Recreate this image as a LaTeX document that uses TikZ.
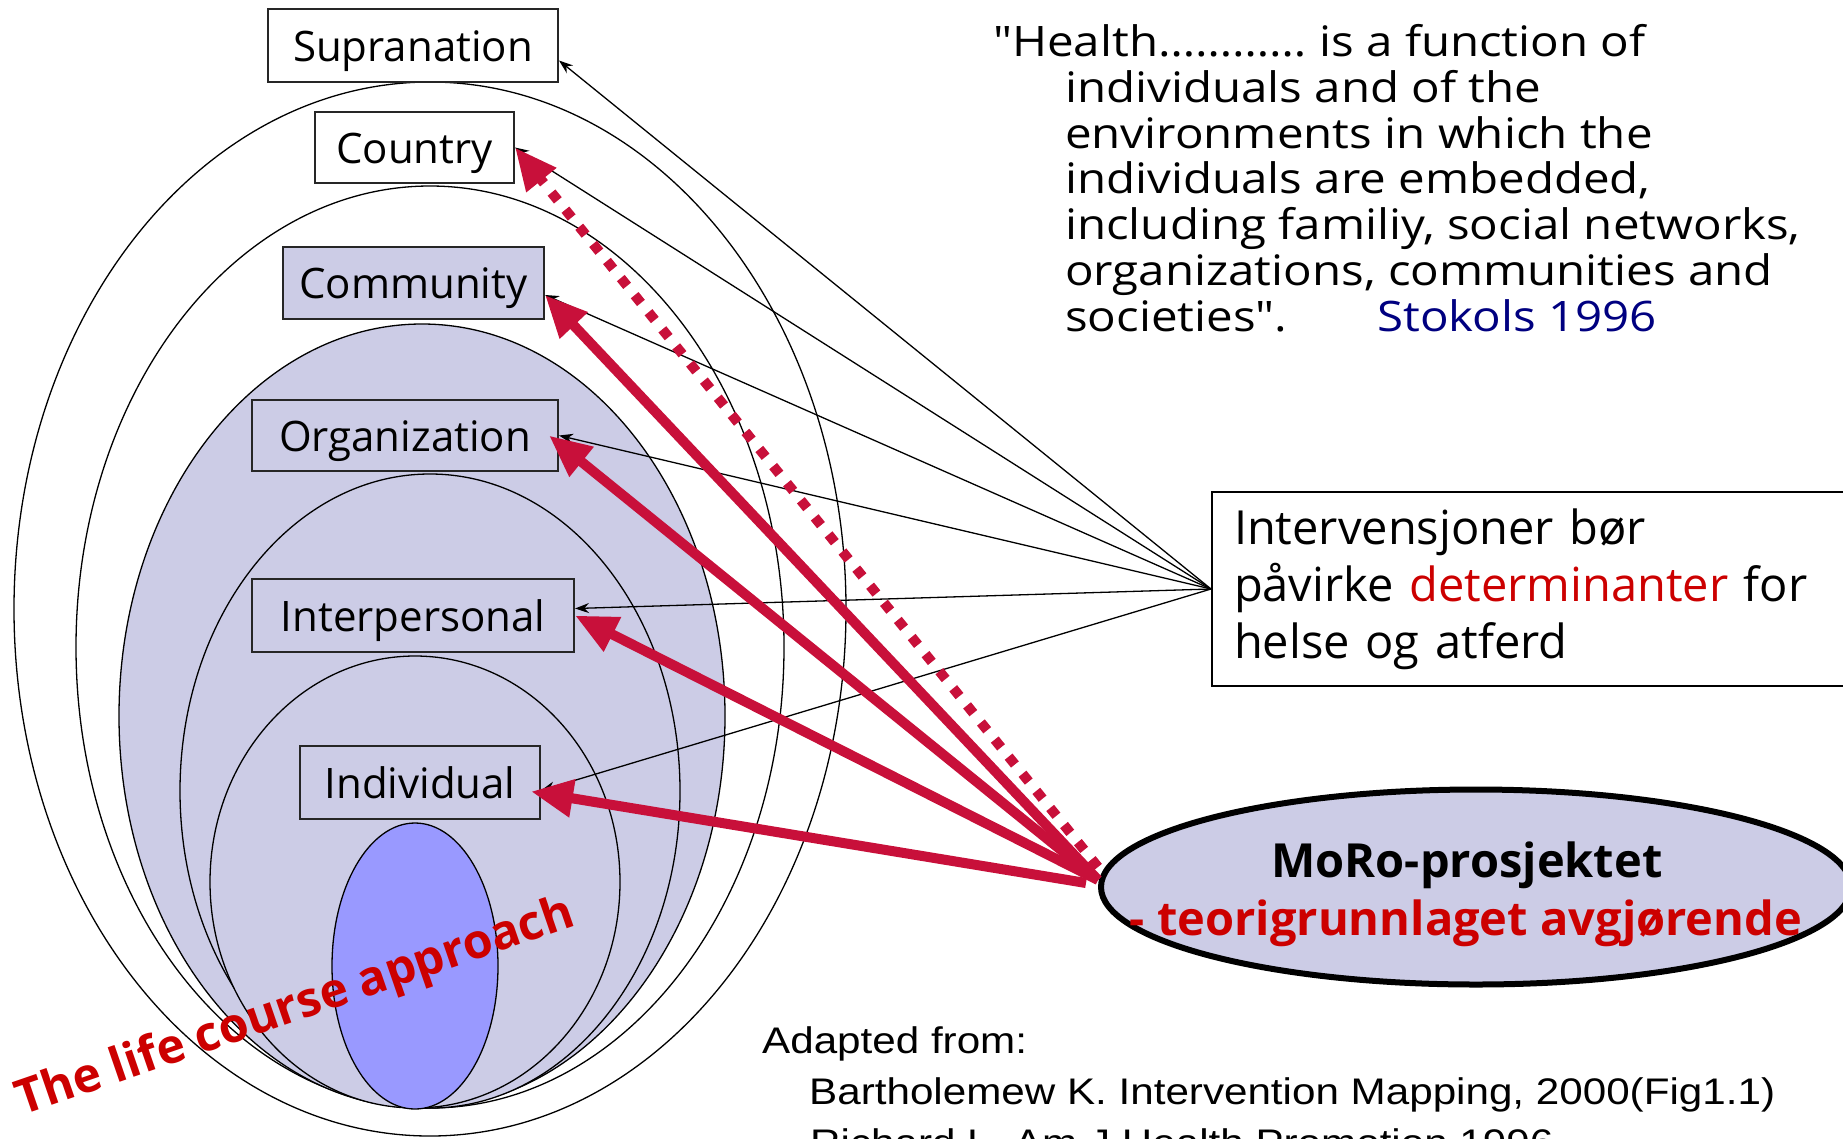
\documentclass[tikz,border=0pt]{standalone}
\usepackage{fontspec}
\setmainfont{Open Sans}
\newfontfamily\quotef[FakeStretch=1.13]{Open Sans}
\newfontfamily\arialf[FakeStretch=1.14]{Liberation Sans}
\usetikzlibrary{arrows.meta,shapes.geometric}
\definecolor{lav}{RGB}{204,204,230}
\definecolor{blueish}{RGB}{153,153,255}
\definecolor{crim}{RGB}{200,16,58}
\definecolor{redtxt}{RGB}{204,0,0}
\definecolor{navytxt}{RGB}{0,0,128}
\begin{document}
\begin{tikzpicture}[x=1pt,y=-1pt,
  lvl/.style={draw=black!85, line width=2pt, inner sep=0pt, text height=41pt, text depth=10pt, font=\fontsize{42}{46}\selectfont},
  ring/.style={line width=1.3pt},
  thinarrow/.style={line width=1.3pt, -{Stealth[length=14pt,width=10pt]}},
  redarrow/.style={draw=crim, line width=10pt, -{Triangle[length=42pt,width=36pt]}},
  reddots/.style={draw=crim, line width=10pt, dash pattern=on 10pt off 12pt, -{Triangle[length=42pt,width=36pt]}}]
\useasboundingbox (0,0) rectangle (1843,1138);
\begin{scope}
\clip (0,0) rectangle (1843,1138);
% nested ellipses
\draw[ring, fill=white] (430,609) ellipse [x radius=416, y radius=527];
\draw[ring, fill=white] (430,647) ellipse [x radius=354, y radius=461];
\draw[ring, fill=lav] (422,716) ellipse [x radius=303, y radius=392];
\draw[ring, fill=lav] (430,791) ellipse [x radius=250, y radius=317];
\draw[ring, fill=lav] (415,882) ellipse [x radius=205, y radius=226];
\draw[ring, fill=blueish] (415,966) ellipse [x radius=83, y radius=143];
% life course text
\node[anchor=base west, rotate=19, text=redtxt, font=\bfseries\fontsize{48}{50}\selectfont, inner sep=0pt] (life) at (22,1116) {The life course approach};
% level boxes
\node[lvl, fill=white, minimum width=290pt, minimum height=73pt] (sup) at (413,45.5) {Supranation};
\node[lvl, fill=white, minimum width=199pt, minimum height=71pt] (country) at (414.5,147.5) {Country};
\node[lvl, fill=lav, minimum width=261pt, minimum height=72pt] (comm) at (413.5,283) {Community};
\node[lvl, fill=lav, minimum width=306pt, minimum height=71pt] (org) at (405,435.5) {Organization};
\node[lvl, fill=lav, minimum width=322pt, minimum height=73pt] (inter) at (413,615.5) {Interpersonal};
\node[lvl, fill=lav, minimum width=240pt, minimum height=73pt] (indiv) at (420,782.5) {Individual};
% quote
\node[anchor=base west, align=left, inner sep=0pt, font=\quotef\fontsize{42}{45.7}\selectfont] (quote) at (993,331)
 {"Health………… is a function of\\
  \hspace*{72pt}individuals and of the\\
  \hspace*{72pt}environments in which the\\
  \hspace*{72pt}individuals are embedded,\\
  \hspace*{72pt}including familiy, social networks,\\
  \hspace*{72pt}organizations, communities and\\
  \hspace*{72pt}societies".};
\node[anchor=base west, inner sep=0pt, text=navytxt, font=\quotef\fontsize{42}{45.7}\selectfont] (stokols) at (1377,331) {Stokols 1996};
% interventions box
\node[draw, line width=2pt, anchor=north west, minimum height=194pt, text width=650pt, inner xsep=22pt, align=left, font=\fontsize{47}{57}\selectfont] (interv) at (1211,491)
 {Intervensjoner bør\\ påvirke \textcolor{redtxt}{determinanter} for\\ helse og atferd};
% MoRo ellipse
\node[ellipse, draw, line width=6pt, fill=lav, minimum width=750pt, minimum height=195pt, inner sep=0pt] (moro) at (1476,887) {};
\node[anchor=base, font=\bfseries\fontsize{47}{50}\selectfont, inner sep=0pt] (moro1) at (1467,877) {MoRo-prosjektet};
\node[anchor=base, text=redtxt, font=\bfseries\fontsize{47}{50}\selectfont, inner sep=0pt] (moro2) at (1466,935) {- teorigrunnlaget avgjørende};
% adapted from
\node[anchor=base west, align=left, inner sep=0pt, font=\arialf\fontsize{37}{51}\selectfont] (adapt) at (762,1155)
 {Adapted from:\\
  \hspace*{47pt}Bartholemew K. Intervention Mapping, 2000(Fig1.1)\\
  \hspace*{48pt}Richard L. Am J Health Promotion 1996};
% thin connectors
\draw[thinarrow] (interv.west) -- ([yshift=-15pt]sup.east);
\draw[thinarrow] (interv.west) -- (country.east);
\draw[thinarrow] (interv.west) -- ([yshift=-12pt]comm.east);
\draw[thinarrow] (interv.west) -- (org.east);
\draw[thinarrow] (interv.west) -- ([yshift=7pt]inter.east);
\draw[thinarrow] (interv.west) -- ([yshift=-8pt]indiv.east);
% red connectors
\draw[reddots] ([yshift=20pt]moro.west) -- (country.east);
\draw[redarrow] ([yshift=7pt]moro.west) -- ([yshift=-12pt]comm.east);
\draw[redarrow] ([yshift=7pt]moro.west) -- ([xshift=-10pt]org.east);
\draw[redarrow] ([yshift=7pt]moro.west) -- (inter.east);
\draw[redarrow] ([xshift=-12pt,yshift=4pt]moro.west) -- ([xshift=-10pt,yshift=-9pt]indiv.east);
\end{scope}
\end{tikzpicture}
\end{document}
